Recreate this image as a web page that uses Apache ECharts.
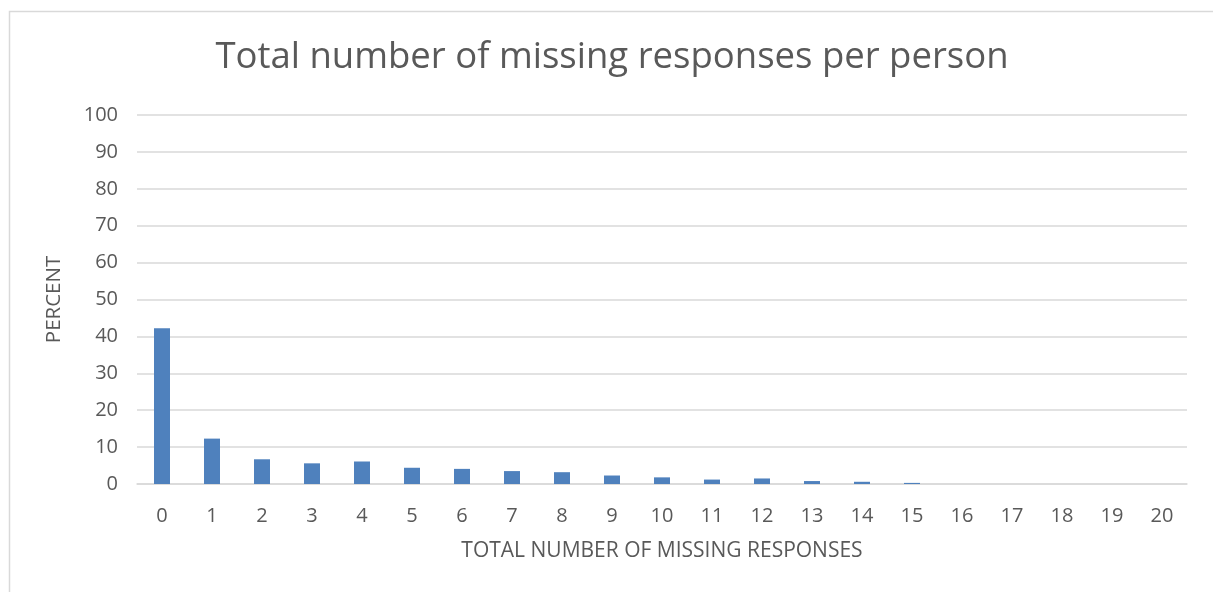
<!DOCTYPE html>
<html>
<head>
<meta charset="utf-8">
<script src="https://cdn.jsdelivr.net/npm/echarts@6/dist/echarts.min.js"></script>
<style>html,body{margin:0;padding:0;background:#fff;}#c{width:1213px;height:592px;}</style>
</head>
<body>
<div id="c"></div>
<script>
const categories = ['0','1','2','3','4','5','6','7','8','9','10','11','12','13','14','15','16','17','18','19','20'];
const percentValues = [42.2, 12.3, 6.7, 5.6, 6.1, 4.4, 4.1, 3.5, 3.2, 2.3, 1.8, 1.2, 1.5, 0.8, 0.6, 0.3, 0, 0, 0, 0, 0];
const titleText = 'Total number of missing responses per person';
const xAxisName = 'TOTAL NUMBER OF MISSING RESPONSES';
const yAxisName = 'PERCENT';

const chart = echarts.init(document.getElementById('c'));
const font = "'Open Sans', 'Liberation Sans', sans-serif";
chart.setOption({
  animation: false,
  backgroundColor: '#fff',
  graphic: [{
    type: 'rect', left: 7, top: 9,
    shape: {width: 1220, height: 600},
    style: {fill: 'none', stroke: '#d9d9d9', lineWidth: 1.5},
    silent: true, z: -1
  }],
  title: {
    text: titleText, left: 607, textAlign: 'center', top: 34,
    textStyle: {fontFamily: font, fontSize: 36.5, fontWeight: 'normal', color: '#595959'}
  },
  grid: {left: 137, right: 26, top: 115, bottom: 108, containLabel: false},
  xAxis: {
    type: 'category', data: categories,
    name: xAxisName, nameLocation: 'middle', nameGap: 57,
    nameTextStyle: {fontFamily: font, fontSize: 21, color: '#595959'},
    axisLine: {lineStyle: {color: '#d9d9d9', width: 1.5}},
    axisTick: {show: false},
    axisLabel: {fontFamily: font, fontSize: 20, color: '#595959', margin: 22}
  },
  yAxis: {
    type: 'value', min: 0, max: 100, interval: 10,
    name: yAxisName, nameLocation: 'middle', nameGap: 72, nameRotate: 90,
    nameTextStyle: {fontFamily: font, fontSize: 20.5, color: '#595959'},
    axisLine: {show: false}, axisTick: {show: false},
    axisLabel: {fontFamily: font, fontSize: 20, color: '#595959', margin: 19},
    splitLine: {lineStyle: {color: '#d9d9d9', width: 1.5}}
  },
  series: [{
    type: 'bar', data: percentValues, barWidth: 16,
    itemStyle: {color: '#4f81bd', borderWidth: 0}
  }]
});
</script>
</body>
</html>
